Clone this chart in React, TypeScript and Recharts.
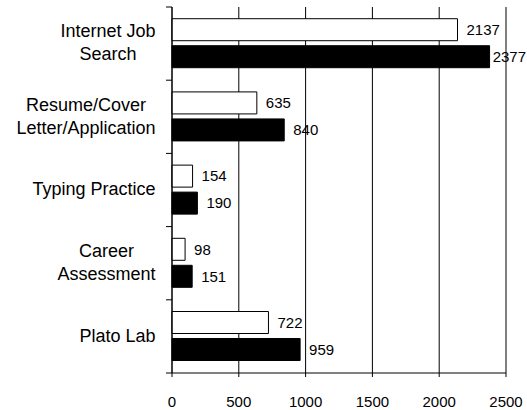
import { BarChart, Bar, XAxis, YAxis, CartesianGrid, LabelList } from 'recharts'

const categories = [
  'Internet Job Search',
  'Resume/Cover Letter/Application',
  'Typing Practice',
  'Career Assessment',
  'Plato Lab',
]
// how each category label wraps in the picture
const categoryLines = [
  ['Internet Job', 'Search'],
  ['Resume/Cover', 'Letter/Application'],
  ['Typing Practice'],
  ['Career', 'Assessment'],
  ['Plato Lab'],
]
const firstSeries = [2137, 635, 154, 98, 722]
const secondSeries = [2377, 840, 190, 151, 959]
const xTicks = [0, 500, 1000, 1500, 2000, 2500]

const data = categories.map((name, i) => ({
  name,
  first: firstSeries[i],
  second: secondSeries[i],
}))

const FONT = "'Liberation Sans', Arial, sans-serif"
const CAT_SIZE = 18
const NUM_SIZE = 15

const canvas = typeof document !== 'undefined' ? document.createElement('canvas') : null
function textWidth(text: string, size: number) {
  const ctx = canvas?.getContext('2d')
  if (!ctx) return text.length * size * 0.55
  ctx.font = `${size}px ${FONT}`
  return ctx.measureText(text).width
}

const CategoryTick = (props: any) => {
  const { x, y, payload, index } = props
  const i = payload?.index ?? index
  const lines = categoryLines[i] || [String(payload.value)]
  const half = payload?.offset || 0
  const right = x - 16.5
  const block = Math.max(...lines.map((l) => textWidth(l, CAT_SIZE)))
  const cx = right - block / 2
  const lineH = 23
  return (
    <g>
      <line x1={x - 6} x2={x} y1={y - half} y2={y - half} stroke="#000" />
      {i === categories.length - 1 && (
        <line x1={x - 6} x2={x} y1={y + half} y2={y + half} stroke="#000" />
      )}
      {lines.map((l, k) => (
        <text
          key={k}
          x={cx}
          y={y - 1 + (k - (lines.length - 1) / 2) * lineH}
          dy="0.355em"
          textAnchor="middle"
          fontSize={CAT_SIZE}
          fontFamily={FONT}
          fill="#000"
        >
          {l}
        </text>
      ))}
    </g>
  )
}

const ValueLabel = (props: any) => {
  const { x, y, width, height, value } = props
  const text = String(value)
  const w = textWidth(text, NUM_SIZE)
  let lx = x + width + 9
  if (lx + w > 526) lx = 526 - w
  return (
    <text
      x={lx}
      y={y + height / 2}
      dy="0.355em"
      fontSize={NUM_SIZE}
      fontFamily={FONT}
      fill="#000"
    >
      {text}
    </text>
  )
}

export default function App() {
  return (
    <div style={{ position: 'absolute', left: 0, top: 0, background: '#fff' }}>
      <BarChart
        width={527}
        height={410}
        data={data}
        layout="vertical"
        margin={{ top: 7, right: 21, bottom: 0, left: 0 }}
        barCategoryGap="16%"
        barGap={5}
      >
        <CartesianGrid horizontal={false} stroke="#000" strokeWidth={1} />
        <XAxis
          type="number"
          domain={[0, 2500]}
          ticks={xTicks}
          interval={0}
          height={37}
          tickSize={4}
          tickMargin={19}
          axisLine={{ stroke: '#000' }}
          tickLine={{ stroke: '#000' }}
          tick={{ fontSize: NUM_SIZE, fontFamily: FONT, fill: '#000' }}
        />
        <YAxis
          type="category"
          dataKey="name"
          width={172}
          tickSize={0}
          tickMargin={0}
          tickLine={false}
          axisLine={{ stroke: '#000' }}
          tick={<CategoryTick />}
          interval={0}
        />
        <Bar dataKey="first" fill="#fff" stroke="#000" strokeWidth={1} isAnimationActive={false}>
          <LabelList dataKey="first" content={<ValueLabel />} />
        </Bar>
        <Bar dataKey="second" fill="#000" stroke="#000" strokeWidth={1} isAnimationActive={false}>
          <LabelList dataKey="second" content={<ValueLabel />} />
        </Bar>
      </BarChart>
    </div>
  )
}
